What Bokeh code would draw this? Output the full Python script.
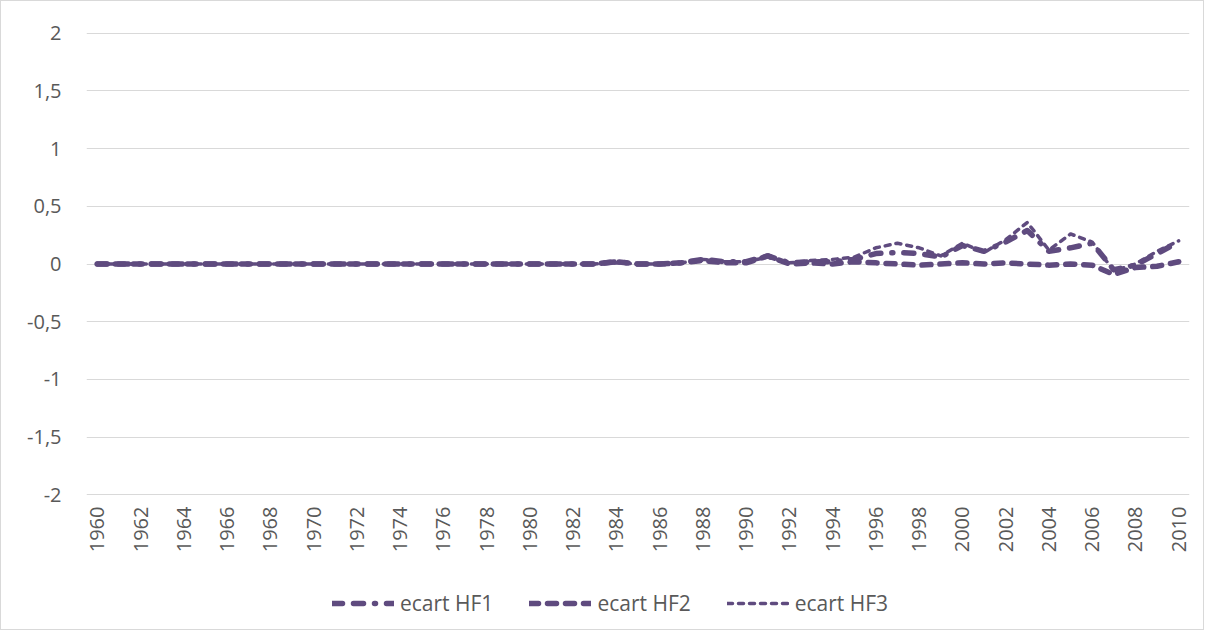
from bokeh.plotting import figure
from bokeh.models import FixedTicker, Legend, LegendItem, CustomJSTickFormatter, Range1d
from bokeh.layouts import column
from bokeh.embed import file_html
from bokeh.resources import INLINE
import math

years = list(range(1960, 2011))
zeros_pre = [0.0] * 24  # 1960-1983

# 1984 .. 2010
hf1_tail = [0.02, 0.0, 0.0, 0.01, 0.04, 0.02, 0.02, 0.07, 0.01, 0.02, 0.02, 0.04,
            0.09, 0.10, 0.09, 0.06, 0.16, 0.11, 0.19, 0.29, 0.11, 0.14, 0.18, -0.05,
            -0.01, 0.09, 0.19]
hf2_tail = [0.02, 0.0, 0.0, 0.01, 0.03, 0.01, 0.01, 0.07, 0.0, 0.01, 0.0, 0.02,
            0.01, 0.0, -0.01, 0.0, 0.01, 0.0, 0.01, 0.0, -0.01, 0.0, -0.01, -0.09,
            -0.03, -0.02, 0.02]
hf3_tail = [0.01, 0.0, 0.0, 0.01, 0.04, 0.02, 0.02, 0.06, 0.01, 0.03, 0.04, 0.06,
            0.14, 0.18, 0.14, 0.07, 0.18, 0.10, 0.21, 0.36, 0.12, 0.26, 0.19, -0.06,
            0.0, 0.11, 0.20]

ecart_hf1 = zeros_pre + hf1_tail
ecart_hf2 = zeros_pre + hf2_tail
ecart_hf3 = zeros_pre + hf3_tail

series_names = ["ecart HF1", "ecart HF2", "ecart HF3"]
y_ticks = [-2, -1.5, -1, -0.5, 0, 0.5, 1, 1.5, 2]
x_ticks = list(range(1960, 2011, 2))

COLOR = "#5F4B7F"
TXT = "#595959"
FONT = "Open Sans"

STYLES = [dict(line_width=5.5, line_dash="10 11 10 11 1 11"),
          dict(line_width=5.5, line_dash="9 9"),
          dict(line_width=3.5, line_dash="5 6")]

p = figure(frame_width=1103, frame_height=463, output_backend="svg", toolbar_location=None,
           x_range=Range1d(1959.5, 2010.5), y_range=Range1d(-2.005, 2.005),
           min_border_left=85, min_border_right=14, min_border_top=31,
           min_border_bottom=60)
p.outline_line_color = None
p.border_fill_color = "white"
p.background_fill_color = "white"

for ys, st in zip([ecart_hf1, ecart_hf2, ecart_hf3], STYLES):
    p.line(years, ys, line_color=COLOR, line_cap="round", line_join="round", **st)

p.xgrid.grid_line_color = None
p.ygrid.grid_line_color = "#D9D9D9"
p.ygrid.grid_line_width = 1

p.yaxis.ticker = FixedTicker(ticks=y_ticks)
p.yaxis.formatter = CustomJSTickFormatter(code="return tick.toString().replace('.', ',');")
p.xaxis.ticker = FixedTicker(ticks=x_ticks)
p.xaxis.major_label_orientation = math.pi / 2

for ax in (p.xaxis[0], p.yaxis[0]):
    ax.axis_line_color = None
    ax.major_tick_line_color = None
    ax.minor_tick_line_color = None
    ax.major_tick_out = 0
    ax.major_tick_in = 0
    ax.minor_tick_out = 0
    ax.minor_tick_in = 0
    ax.major_label_text_color = TXT
    ax.major_label_text_font = FONT
    ax.major_label_text_font_size = "20px"
p.yaxis.major_label_standoff = 25
p.xaxis.major_label_standoff = 11

# Legend strip below the chart
pl = figure(width=1202, height=74, output_backend="svg", toolbar_location=None,
            x_range=Range1d(0, 1), y_range=Range1d(0, 1),
            x_axis_type=None, y_axis_type=None,
            min_border_left=0, min_border_right=0, min_border_top=0, min_border_bottom=0)
pl.outline_line_color = None
pl.grid.visible = False
pl.border_fill_color = "white"

items = []
for name, st in zip(series_names, STYLES):
    r = pl.line([-5, -4], [-5, -4], line_color=COLOR, line_cap="round",
                line_join="round", **st)
    items.append(LegendItem(label=name, renderers=[r]))

legend = Legend(items=items, orientation="horizontal", location=(246, 12),
                glyph_width=62, glyph_height=20, spacing=36, label_standoff=6,
                label_text_font=FONT, label_text_font_size="21px",
                label_text_color=TXT, border_line_color=None,
                background_fill_alpha=0, margin=0, padding=0)
pl.add_layout(legend, "center")

layout = column(p, pl, spacing=0, styles={"border": "1px solid #D9D9D9"})

open("out.html", "w").write(file_html(layout, INLINE))
